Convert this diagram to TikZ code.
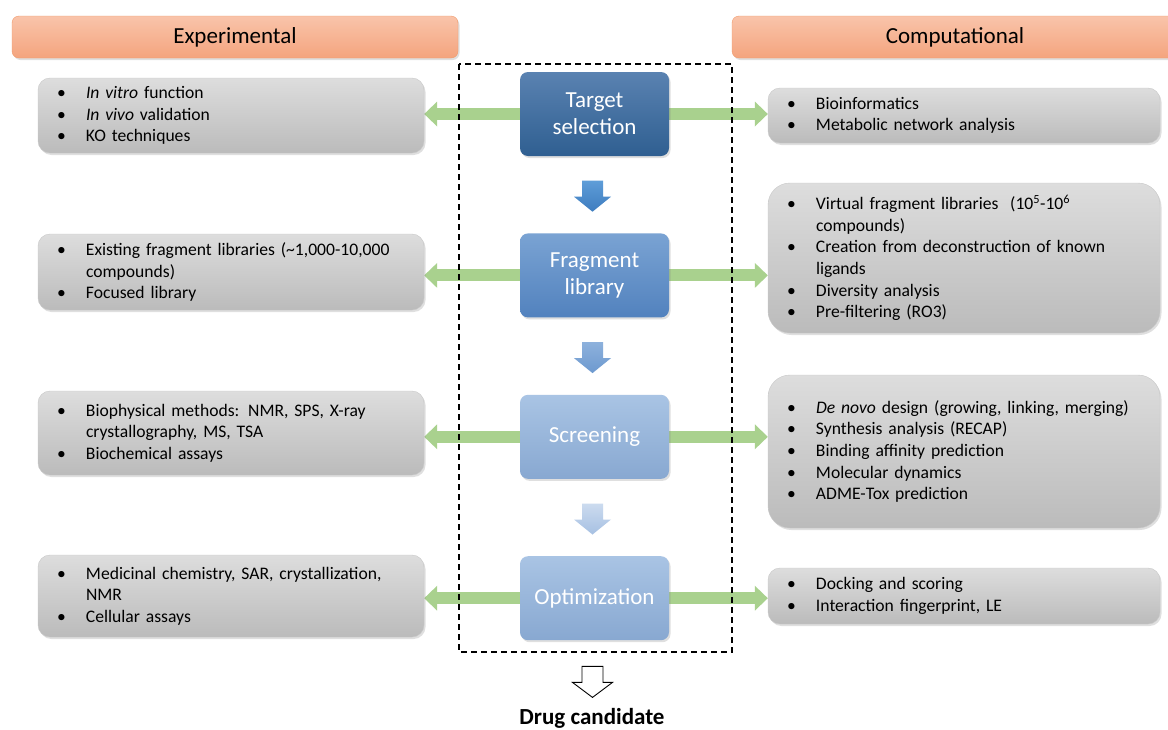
\documentclass[tikz,border=0pt]{standalone}
\usepackage{fontspec}
\setmainfont{Carlito}
\usetikzlibrary{arrows.meta,calc,shadows,positioning}

\definecolor{orgtop}{HTML}{F9C4AA}
\definecolor{orgbot}{HTML}{F4A47E}
\definecolor{orgline}{HTML}{F19A6A}
\definecolor{graytop}{HTML}{DDDDDD}
\definecolor{graybot}{HTML}{BBBBBB}
\definecolor{grayline}{HTML}{C8C8C8}
\definecolor{linkgreen}{HTML}{A9D18E}
\definecolor{stepAt}{HTML}{5A82B1}
\definecolor{stepAb}{HTML}{2F5F91}
\definecolor{stepBt}{HTML}{7AA3D3}
\definecolor{stepBb}{HTML}{5282BE}
\definecolor{stepCt}{HTML}{A9C4E4}
\definecolor{stepCb}{HTML}{88A8D1}
\definecolor{flowAt}{HTML}{5E9DD8}
\definecolor{flowAb}{HTML}{3E7CBF}
\definecolor{flowBt}{HTML}{8DB1DC}
\definecolor{flowBb}{HTML}{6D99CF}
\definecolor{flowCt}{HTML}{CCDBEF}
\definecolor{flowCb}{HTML}{A6C0E2}

\newcommand\bitem{\makebox[29pt][l]{\textbullet}}
\newcommand\bcont{\hspace*{29pt}}

\pgfdeclarelayer{bg}
\pgfsetlayers{bg,main}

\begin{document}
\begin{tikzpicture}[x=1pt, y=-1pt,
    softshadow/.style={drop shadow={shadow xshift=1.5pt, shadow yshift=-2pt, opacity=0.25}},
    headbox/.style={draw=orgline, rounded corners=7pt, top color=orgtop, bottom color=orgbot,
      minimum width=446pt, minimum height=42pt, font=\fontsize{23}{27}\selectfont, softshadow},
    listbox/.style={draw=grayline, rounded corners=12pt, top color=graytop, bottom color=graybot,
      align=left, inner xsep=19pt, font=\fontsize{17.6}{21.6}\selectfont, softshadow},
    expbox/.style={listbox, text width=348pt},
    compbox/.style={listbox, text width=354pt},
    stepbox/.style={rounded corners=8pt, minimum width=149pt, minimum height=84pt,
      text=white, align=center, font=\fontsize{23}{27}\selectfont, softshadow},
    linkarrow/.style={line width=12pt, draw=linkgreen,
      {Triangle[width=25pt,length=13pt,line width=0pt]}-{Triangle[width=25pt,length=13pt,line width=0pt]}}]

  \useasboundingbox (0,0) rectangle (1168,729);

  % Column headers
  \node[headbox] (exphead) at (235,37) {Experimental};
  \node[headbox] (comphead) at (955,37) {Computational};

  % Pipeline steps
  \node[stepbox, top color=stepAt, bottom color=stepAb] (target) at (594.5,114) {Target\\selection};
  \node[stepbox, top color=stepBt, bottom color=stepBb, below=77pt of target] (fraglib) {Fragment\\library};
  \node[stepbox, top color=stepCt, bottom color=stepCb, below=77pt of fraglib] (screening) {Screening};
  \node[stepbox, top color=stepCt, bottom color=stepCb, below=77pt of screening] (optim) {Optimization};

  % Pipeline frame
  \draw[line width=2pt, dash pattern=on 6pt off 4pt] (459,64) rectangle (732,652);

  % Experimental side
  \node[expbox, minimum height=75pt] (exp1) at (231,115.5)
    {\bitem\textit{In vitro} function\\\bitem\textit{In vivo} validation\\\bitem KO techniques};
  \node[expbox, minimum height=76pt] (exp2) at (231,272)
    {\bitem Existing fragment libraries (\textasciitilde1,000-10,000\\\bcont compounds)\\\bitem Focused library};
  \node[expbox, minimum height=84pt] (exp3) at (231,433)
    {\bitem Biophysical methods: NMR, SPS, X-ray\\\bcont crystallography, MS, TSA\\\bitem Biochemical assays};
  \node[expbox, minimum height=82pt] (exp4) at (231,596)
    {\bitem Medicinal chemistry, SAR, crystallization,\\\bcont NMR\\\bitem Cellular assays};

  % Computational side
  \node[compbox, minimum height=55pt] (comp1) at (964,115.5)
    {\bitem Bioinformatics\\\bitem Metabolic network analysis};
  \node[compbox, minimum height=150pt, rounded corners=22pt] (comp2) at (964,258)
    {\bitem Virtual fragment libraries\ \ (10\textsuperscript{5}-10\textsuperscript{6}\\\bcont compounds)\\
     \bitem Creation from deconstruction of known\\\bcont ligands\\
     \bitem Diversity analysis\\\bitem Pre-filtering (RO3)};
  \node[compbox, minimum height=153pt, rounded corners=22pt] (comp3) at (964,451.5)
    {\bitem\textit{De novo} design (growing, linking, merging)\\\bitem Synthesis analysis (RECAP)\\
     \bitem Binding affinity prediction\\\bitem Molecular dynamics\\\bitem ADME-Tox prediction};
  \node[compbox, minimum height=56pt] (comp4) at (964,596)
    {\bitem Docking and scoring\\\bitem Interaction fingerprint, LE};

  % Outcome
  \node[font=\bfseries\fontsize{23}{27}\selectfont] (drug) at (592,718) {Drug candidate};

  % Links between sides
  \begin{pgfonlayer}{bg}
    \fill[white] (0,0) rectangle (1168,729);
    \foreach \s/\l/\r in {target/exp1/comp1, fraglib/exp2/comp2, screening/exp3/comp3, optim/exp4/comp4}
      \draw[linkarrow] (\l.east |- \s.center) -- (\r.west |- \s.center);
  \end{pgfonlayer}

  % Flow arrows
  \foreach \a/\b/\ct/\cb in {target/fraglib/flowAt/flowAb, fraglib/screening/flowBt/flowBb, screening/optim/flowCt/flowCb} {
    \coordinate (mid) at ($(\a.south)!0.5!(\b.north)+(-2,2)$);
    \shade[top color=\ct, bottom color=\cb, shift={(mid)}]
      (-10.5,-16) -- (10.5,-16) -- (10.5,0) -- (18.5,0) -- (0,15) -- (-18.5,0) -- (-10.5,0) -- cycle;
  }
  \coordinate (outflow) at ($(optim.south)+(-2,42)$);
  \draw[fill=white, line width=0.9pt, shift={(outflow)}]
    (-10.5,-16) -- (10.5,-16) -- (10.5,0) -- (20,0) -- (0,15) -- (-20,0) -- (-10.5,0) -- cycle;
\end{tikzpicture}
\end{document}
